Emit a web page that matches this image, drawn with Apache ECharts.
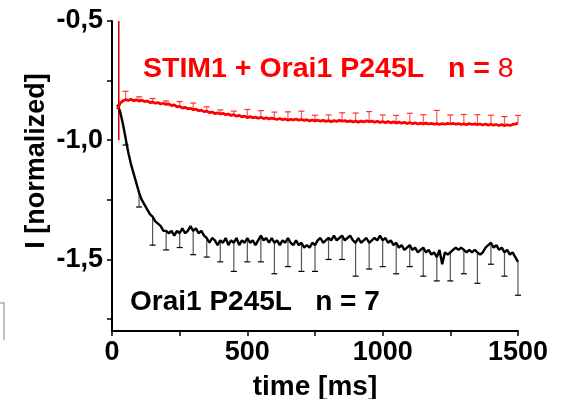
<!DOCTYPE html>
<html>
<head>
<meta charset="utf-8">
<script src="https://cdn.jsdelivr.net/npm/echarts@6.0.0/dist/echarts.min.js"></script>
<style>
  html, body { margin: 0; padding: 0; background: #fff; }
  #chart { width: 564px; height: 399px; }
</style>
</head>
<body>
<div id="chart"></div>
<script>
// traces sampled every 10 ms starting at 20 ms
var traceStart = 20;
var traceStep = 10;

// Orai1 P245L (black), 20..1500 ms
var orai1Trace = [
  -0.85, -0.88, -0.93, -0.99, -1.05, -1.10, -1.14, -1.18, -1.22, -1.25,
  -1.27, -1.29, -1.31, -1.32, -1.34, -1.35, -1.36, -1.38, -1.38, -1.39,
  -1.38, -1.40, -1.38, -1.39, -1.37, -1.39, -1.38, -1.36, -1.38, -1.37,
  -1.39, -1.38, -1.40, -1.41, -1.43, -1.41, -1.42, -1.44, -1.42, -1.43,
  -1.41, -1.44, -1.42, -1.43, -1.41, -1.44, -1.42, -1.43, -1.41, -1.43,
  -1.42, -1.44, -1.42, -1.40, -1.42, -1.41, -1.43, -1.41, -1.43, -1.42,
  -1.44, -1.42, -1.43, -1.41, -1.43, -1.44, -1.42, -1.44, -1.43, -1.45,
  -1.44, -1.45, -1.43, -1.44, -1.42, -1.41, -1.43, -1.42, -1.41, -1.42,
  -1.40, -1.42, -1.41, -1.40, -1.42, -1.41, -1.40, -1.42, -1.43, -1.41,
  -1.43, -1.42, -1.41, -1.43, -1.42, -1.41, -1.42, -1.40, -1.42, -1.41,
  -1.43, -1.42, -1.44, -1.43, -1.45, -1.44, -1.46, -1.45, -1.44, -1.46,
  -1.45, -1.47, -1.46, -1.45, -1.47, -1.46, -1.48, -1.47, -1.49, -1.46,
  -1.52, -1.47, -1.48, -1.47, -1.46, -1.45, -1.46, -1.45, -1.46, -1.47,
  -1.46, -1.47, -1.46, -1.47, -1.48, -1.47, -1.45, -1.44, -1.43, -1.45,
  -1.44, -1.46, -1.45, -1.47, -1.46, -1.48, -1.47, -1.49, -1.51
];

// STIM1 + Orai1 P245L (red), 20..1500 ms
var stimTrace = [
  -0.870, -0.845, -0.835, -0.830, -0.833, -0.828, -0.835, -0.830, -0.836, -0.832,
  -0.838, -0.835, -0.842, -0.840, -0.845, -0.842, -0.848, -0.845, -0.850, -0.848,
  -0.855, -0.852, -0.860, -0.858, -0.865, -0.862, -0.868, -0.866, -0.872, -0.870,
  -0.876, -0.874, -0.880, -0.878, -0.884, -0.882, -0.888, -0.885, -0.890, -0.887,
  -0.893, -0.890, -0.896, -0.893, -0.899, -0.896, -0.902, -0.899, -0.905, -0.901,
  -0.906, -0.903, -0.908, -0.904, -0.909, -0.906, -0.911, -0.907, -0.910, -0.913,
  -0.909, -0.914, -0.911, -0.916, -0.912, -0.915, -0.911, -0.916, -0.913, -0.917,
  -0.914, -0.919, -0.915, -0.919, -0.916, -0.920, -0.917, -0.921, -0.918, -0.922,
  -0.918, -0.921, -0.917, -0.920, -0.918, -0.922, -0.919, -0.923, -0.920, -0.924,
  -0.920, -0.923, -0.919, -0.922, -0.920, -0.924, -0.921, -0.925, -0.922, -0.926,
  -0.922, -0.927, -0.923, -0.928, -0.924, -0.929, -0.925, -0.930, -0.926, -0.931,
  -0.927, -0.932, -0.928, -0.931, -0.928, -0.932, -0.929, -0.933, -0.930, -0.934,
  -0.930, -0.933, -0.929, -0.932, -0.929, -0.933, -0.930, -0.934, -0.931, -0.935,
  -0.930, -0.934, -0.931, -0.935, -0.932, -0.936, -0.932, -0.937, -0.933, -0.937,
  -0.934, -0.938, -0.934, -0.939, -0.935, -0.938, -0.934, -0.932, -0.928
];

// capacitive transient at the start of the red trace
var spikeTimes = [25, 25];
var spikeValues = [-0.5, -1.0];

// error bars every 50 ms
var errTimes = [50, 100, 150, 200, 250, 300, 350, 400, 450, 500, 550, 600, 650, 700, 750,
  800, 850, 900, 950, 1000, 1050, 1100, 1150, 1200, 1250, 1300, 1350, 1400, 1450, 1500];
var orai1Err = [0.03, 0.06, 0.12, 0.08, 0.06, 0.10, 0.08, 0.09, 0.12, 0.10, 0.11, 0.13, 0.12, 0.12, 0.11,
  0.09, 0.10, 0.14, 0.11, 0.11, 0.13, 0.09, 0.12, 0.10, 0.12, 0.10, 0.13, 0.09, 0.10, 0.14];
var stimErr = [0.035, 0.018, 0.015, 0.015, 0.020, 0.028, 0.018, 0.017, 0.015, 0.034, 0.028, 0.028, 0.035, 0.035, 0.024,
  0.024, 0.035, 0.034, 0.042, 0.028, 0.032, 0.039, 0.038, 0.055, 0.038, 0.039, 0.042, 0.038, 0.038, 0.032];

var xTicks = [0, 250, 500, 750, 1000, 1250, 1500];
var xLabels = [0, 500, 1000, 1500];
var yTicks = [-1.75, -1.5, -1.25, -1.0, -0.75, -0.5];
var yLabels = [-1.5, -1.0, -0.5];

var FONT = '"Liberation Sans", Arial, sans-serif';

function toPairs(trace) {
  var out = [];
  for (var i = 0; i < trace.length; i++) {
    out.push([traceStart + i * traceStep, trace[i]]);
  }
  return out;
}

function errData(trace, errs) {
  var out = [];
  for (var i = 0; i < errTimes.length; i++) {
    var idx = Math.round((errTimes[i] - traceStart) / traceStep);
    out.push([errTimes[i], trace[idx], errs[i]]);
  }
  return out;
}

function errRenderer(dir, stemColor, capColor) {
  return function (params, api) {
    var t = api.value(0), m = api.value(1), e = api.value(2);
    var p0 = api.coord([t, m]);
    var p1 = api.coord([t, m + dir * e]);
    return {
      type: 'group',
      children: [
        { type: 'line', shape: { x1: p0[0], y1: p0[1], x2: p1[0], y2: p1[1] },
          style: { stroke: stemColor, lineWidth: 1.2 } },
        { type: 'line', shape: { x1: p1[0] - 3, y1: p1[1], x2: p1[0] + 3, y2: p1[1] },
          style: { stroke: capColor, lineWidth: 1.2 } }
      ]
    };
  };
}

var spikeData = [];
for (var i = 0; i < spikeTimes.length; i++) spikeData.push([spikeTimes[i], spikeValues[i]]);

var chart = echarts.init(document.getElementById('chart'), null, { renderer: 'canvas' });

var option = {
  animation: false,
  backgroundColor: '#fff',
  grid: { left: 112, right: 46, top: 21, bottom: 68, containLabel: false, outerBoundsMode: 'none' },
  xAxis: {
    type: 'value',
    min: 0, max: 1500, interval: 500,
    splitLine: { show: false },
    axisLine: { show: true, lineStyle: { color: '#000', width: 2 } },
    axisTick: { show: true, length: 5, customValues: xTicks, lineStyle: { color: '#000', width: 1.5 } },
    axisLabel: {
      color: '#000', fontFamily: FONT, fontWeight: 'bold', fontSize: 27, margin: 8, customValues: xLabels,
      formatter: function (v) { return String(v); }
    },
    name: 'time [ms]',
    nameLocation: 'middle',
    nameGap: 42,
    nameTextStyle: { color: '#000', fontFamily: FONT, fontWeight: 'bold', fontSize: 28 }
  },
  yAxis: {
    type: 'value',
    min: -1.8, max: -0.5,
    splitLine: { show: false },
    axisLine: { show: true, lineStyle: { color: '#000', width: 2 } },
    axisTick: { show: true, length: 5, customValues: yTicks, lineStyle: { color: '#000', width: 1.5 } },
    axisLabel: {
      color: '#000', fontFamily: FONT, fontWeight: 'bold', fontSize: 27, margin: 9,
      customValues: yLabels,
      formatter: function (v) { return v.toFixed(1).replace('.', ','); }
    }
  },
  graphic: [
    {
      type: 'text', x: 37, y: 161, rotation: Math.PI / 2,
      style: { text: 'I [normalized]', x: 0, y: 0, textAlign: 'center', textVerticalAlign: 'middle',
        font: 'bold 27px ' + FONT, fill: '#000' }
    },
    {
      type: 'text', x: 143, y: 69,
      style: {
        text: '{b|STIM1 + Orai1 P245L   n = }{r|8}',
        textVerticalAlign: 'middle',
        rich: {
          b: { fontFamily: FONT, fontWeight: 'bold', fontSize: 28.5, fill: '#ff0000', color: '#ff0000' },
          r: { fontFamily: FONT, fontWeight: 'normal', fontSize: 28.5, fill: '#ff0000', color: '#ff0000' }
        }
      }
    },
    {
      type: 'text', x: 130, y: 302,
      style: { text: 'Orai1 P245L   n = 7', textVerticalAlign: 'middle',
        font: 'bold 28px ' + FONT, fill: '#000' }
    },
    {
      type: 'polyline',
      shape: { points: [[0, 303], [4, 303], [4, 340]] },
      style: { stroke: '#aaa', lineWidth: 1.5, fill: null }
    }
  ],
  series: [
    {
      type: 'line', name: 'spike', data: spikeData, showSymbol: false,
      lineStyle: { color: '#cc0000', width: 1.5 }, z: 1
    },
    {
      type: 'custom', name: 'orai1 err', data: errData(orai1Trace, orai1Err),
      renderItem: errRenderer(-1, '#555', '#000'), z: 2
    },
    {
      type: 'custom', name: 'stim err', data: errData(stimTrace, stimErr),
      renderItem: errRenderer(1, '#ff5a5a', '#ff3030'), z: 2
    },
    {
      type: 'line', name: 'Orai1 P245L', data: toPairs(orai1Trace), showSymbol: false,
      lineStyle: { color: '#000', width: 2.4 }, z: 3
    },
    {
      type: 'line', name: 'STIM1 + Orai1 P245L', data: toPairs(stimTrace), showSymbol: false,
      lineStyle: { color: '#ff0000', width: 2.8 }, z: 4
    }
  ]
};

chart.setOption(option);
</script>
</body>
</html>
